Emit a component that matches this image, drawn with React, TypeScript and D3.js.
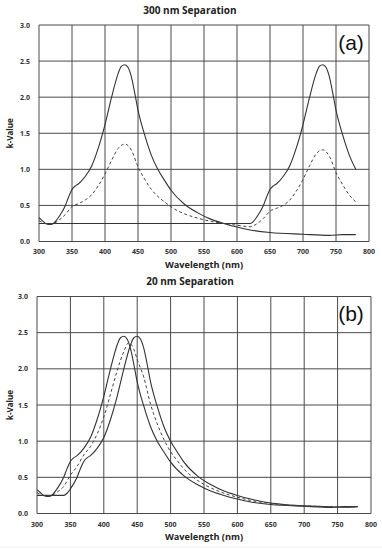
import React from 'react';
import * as d3 from 'd3';

type Pt = [number, number];

const xTicks = [300, 350, 400, 450, 500, 550, 600, 650, 700, 750, 800];
const yTicks = [0, 0.5, 1, 1.5, 2, 2.5, 3];
const yTickLabels = ['0.0', '0.5', '1.0', '1.5', '2.0', '2.5', '3.0'];

// peak near 430 nm (used in both panels)
const peak430: Pt[] = [
  [300, 0.33], [305, 0.29], [310, 0.25], [315, 0.235], [320, 0.24], [325, 0.28], [330, 0.34],
  [340, 0.5], [345, 0.62], [350, 0.72], [355, 0.77], [360, 0.8], [370, 0.9], [380, 1.05],
  [390, 1.3], [400, 1.62], [410, 2.0], [420, 2.33], [425, 2.43], [430, 2.45], [435, 2.41],
  [440, 2.28], [445, 2.06], [450, 1.82], [460, 1.48], [470, 1.2], [480, 1.0], [490, 0.85],
  [500, 0.71], [520, 0.52], [540, 0.4], [560, 0.31], [580, 0.25], [600, 0.2], [620, 0.16],
  [650, 0.125], [700, 0.1], [740, 0.085], [760, 0.095], [780, 0.095],
];

// panel (a): second peak near 730 nm
const peak730: Pt[] = [
  [300, 0.25], [450, 0.25], [620, 0.25], [625, 0.28], [630, 0.34], [640, 0.5], [645, 0.62],
  [650, 0.72], [655, 0.77], [660, 0.8], [670, 0.9], [680, 1.05], [690, 1.3], [700, 1.62],
  [710, 2.0], [720, 2.33], [725, 2.43], [730, 2.45], [735, 2.41], [740, 2.28], [745, 2.06],
  [750, 1.82], [760, 1.48], [770, 1.2], [780, 1.0],
];

// panel (a): dashed mixture
const mixA: Pt[] = [
  [300, 0.29], [310, 0.25], [320, 0.245], [330, 0.295], [340, 0.375], [350, 0.485], [360, 0.525],
  [370, 0.575], [380, 0.65], [390, 0.775], [400, 0.935], [410, 1.125], [420, 1.29], [430, 1.35],
  [440, 1.265], [450, 1.035], [460, 0.865], [470, 0.725], [480, 0.625], [490, 0.55], [500, 0.48],
  [520, 0.385], [540, 0.325], [560, 0.28], [580, 0.25], [600, 0.225], [620, 0.205], [630, 0.245],
  [640, 0.32], [650, 0.42], [660, 0.46], [670, 0.5], [680, 0.575], [690, 0.7], [700, 0.86],
  [710, 1.05], [720, 1.215], [730, 1.27], [740, 1.18], [750, 0.955], [760, 0.79], [770, 0.645],
  [780, 0.55],
];

// panel (b): peak near 450 nm
const peak450: Pt[] = [
  [300, 0.25], [340, 0.25], [345, 0.28], [350, 0.34], [360, 0.5], [365, 0.62], [370, 0.72],
  [375, 0.77], [380, 0.8], [390, 0.9], [400, 1.05], [410, 1.3], [420, 1.62], [430, 2.0],
  [440, 2.33], [445, 2.43], [450, 2.45], [455, 2.41], [460, 2.28], [465, 2.06], [470, 1.82],
  [480, 1.48], [490, 1.2], [500, 1.0], [510, 0.85], [520, 0.71], [540, 0.52], [560, 0.4],
  [580, 0.31], [600, 0.25], [620, 0.2], [640, 0.16], [670, 0.125], [720, 0.1], [760, 0.088],
  [780, 0.095],
];

// panel (b): dashed mixture
const mixB: Pt[] = [
  [300, 0.29], [310, 0.25], [320, 0.245], [330, 0.295], [340, 0.375], [350, 0.53], [360, 0.65],
  [370, 0.81], [380, 0.925], [390, 1.1], [400, 1.335], [410, 1.65], [420, 1.975], [430, 2.24],
  [437, 2.36], [445, 2.27], [450, 2.13], [460, 1.88], [470, 1.51], [480, 1.24], [490, 1.025],
  [500, 0.855], [510, 0.73], [520, 0.615], [540, 0.46], [560, 0.355], [580, 0.28], [600, 0.225],
  [620, 0.18], [640, 0.15], [670, 0.12], [720, 0.1], [760, 0.09], [780, 0.095],
];

const font = '"Open Sans", "DejaVu Sans", sans-serif';

interface Box {
  left: number; right: number; top: number; bottom: number;
  titleY: number; tickY: number; axisY: number;
}

function Panel({ box, title, tag, solid, dashed }: { box: Box; title: string; tag: string; solid: Pt[][]; dashed: Pt[] }) {
  const x = d3.scaleLinear().domain([300, 800]).range([box.left, box.right]);
  const y = d3.scaleLinear().domain([0, 3]).range([box.bottom, box.top]);
  const line = d3.line<Pt>().x(d => x(d[0])).y(d => y(d[1])).curve(d3.curveMonotoneX);
  const midY = (box.top + box.bottom) / 2;

  return (
    <g>
      <text x={190} y={box.titleY} textAnchor="middle" fontFamily={font} fontWeight={700} fontSize={10} fill="#222">{title}</text>
      {xTicks.map(t => (
        <line key={'vx' + t} x1={x(t)} x2={x(t)} y1={box.top} y2={box.bottom} stroke="#4a4a4a" strokeWidth={1} />
      ))}
      {yTicks.map(t => (
        <line key={'hy' + t} x1={box.left} x2={box.right} y1={y(t)} y2={y(t)} stroke="#4a4a4a" strokeWidth={1} />
      ))}
      {xTicks.map(t => (
        <text key={'tx' + t} x={x(t)} y={box.tickY} textAnchor="middle" fontFamily={font} fontWeight={700} fontSize={7} fill="#333">{t}</text>
      ))}
      {yTicks.map((t, i) => (
        <text key={'ty' + t} x={box.left - 9} y={y(t) + 2.5} textAnchor="end" fontFamily={font} fontWeight={700} fontSize={7} fill="#333">{yTickLabels[i]}</text>
      ))}
      <text x={(box.left + box.right) / 2} y={box.axisY} textAnchor="middle" fontFamily={font} fontWeight={700} fontSize={9.2} fill="#222">Wavelength (nm)</text>
      <text transform={`translate(13,${midY}) rotate(-90)`} textAnchor="middle" fontFamily={font} fontWeight={700} fontSize={8} fill="#222">k-Value</text>
      {solid.map((s, i) => (
        <path key={'s' + i} d={line(s) ?? ''} fill="none" stroke="#333" strokeWidth={1.1} />
      ))}
      <path d={line(dashed) ?? ''} fill="none" stroke="#444" strokeWidth={1} strokeDasharray="3,2.5" />
      <text x={351} y={box.top + 24.5} textAnchor="middle" fontFamily='"Liberation Sans", Arial, sans-serif' fontSize={21} fill="#111">{tag}</text>
    </g>
  );
}

export default function App() {
  const boxA: Box = { left: 39, right: 369, top: 25, bottom: 241.5, titleY: 13.5, tickY: 254, axisY: 267.5 };
  const boxB: Box = { left: 37, right: 371, top: 296.5, bottom: 513.5, titleY: 285, tickY: 526.5, axisY: 540 };
  return (
    <svg width={382} height={550} style={{ position: 'absolute', left: 0, top: 0, background: '#fff' }}>
      <rect width={382} height={550} fill="#fff" />
      <Panel box={boxA} title="300 nm Separation" tag="(a)" solid={[peak430, peak730]} dashed={mixA} />
      <Panel box={boxB} title="20 nm Separation" tag="(b)" solid={[peak430, peak450]} dashed={mixB} />
      <line x1={0} x2={382} y1={547} y2={547} stroke="#eee" strokeWidth={1} />
    </svg>
  );
}
